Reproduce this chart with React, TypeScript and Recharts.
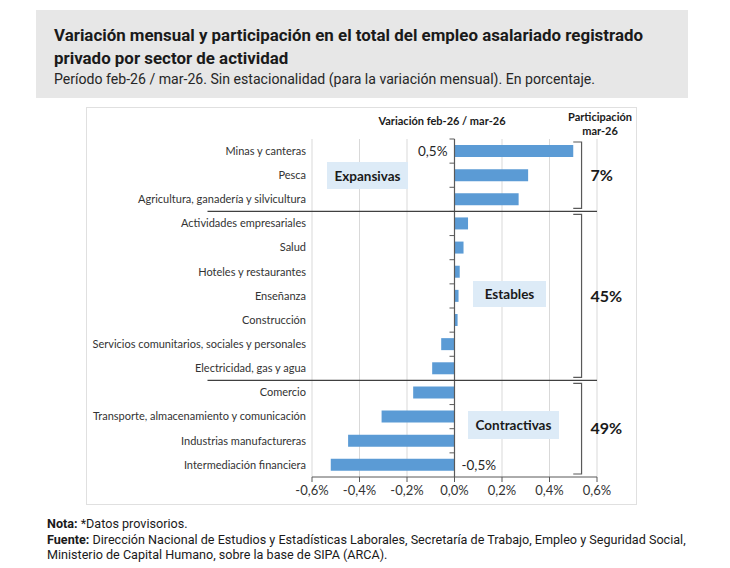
import React from "react";
import {
  BarChart,
  Bar,
  XAxis,
  YAxis,
  CartesianGrid,
  ReferenceLine,
  ReferenceArea,
  LabelList,
} from "recharts";

// sectores, de arriba hacia abajo
const sectores = [
  "Minas y canteras",
  "Pesca",
  "Agricultura, ganadería y silvicultura",
  "Actividades empresariales",
  "Salud",
  "Hoteles y restaurantes",
  "Enseñanza",
  "Construcción",
  "Servicios comunitarios, sociales y personales",
  "Electricidad, gas y agua",
  "Comercio",
  "Transporte, almacenamiento y comunicación",
  "Industrias manufactureras",
  "Intermediación financiera",
];

// variación mensual feb-26 / mar-26 (%)
const variacion = [
  0.5, 0.31, 0.27, 0.057, 0.038, 0.022, 0.017, 0.013, -0.056, -0.094, -0.174,
  -0.307, -0.448, -0.521,
];

// grupos: nombre, primer y último sector, participación mar-26
const grupos = ["Expansivas", "Estables", "Contractivas"];
const grupoDesde = ["Minas y canteras", "Actividades empresariales", "Comercio"];
const grupoHasta = [
  "Agricultura, ganadería y silvicultura",
  "Electricidad, gas y agua",
  "Intermediación financiera",
];
const participacion = ["7%", "45%", "49%"];

const xTicks = [-0.6, -0.4, -0.2, 0, 0.2, 0.4, 0.6];

const data = sectores.map((sector, i) => ({ sector, valor: variacion[i] }));

const fmt = (v: number) => `${v.toFixed(1).replace(".", ",")}%`;

const EXCEL = "Lato, 'Liberation Sans', sans-serif";
const ROBOTO = "Roboto, 'Liberation Sans', sans-serif";
const BLUE = "#5B9BD5";
const AXIS = "#595959";

// "]" shaped bracket drawn from the reference area box
const Bracket = (props: any) => {
  const { x, y, width, height } = props;
  const top = y + 3;
  const bot = y + height - 3;
  return (
    <path
      d={`M${x},${top} H${x + width} V${bot} H${x}`}
      fill="none"
      stroke={AXIS}
      strokeWidth={1.2}
    />
  );
};

// plain tick so long names stay on one line
const SectorTick = (props: any) => {
  const { x, y, payload } = props;
  return (
    <text
      x={x}
      y={y}
      dy="0.35em"
      textAnchor="end"
      fontSize={11}
      fontFamily={EXCEL}
      fill="#333"
    >
      {payload.value}
    </text>
  );
};

// label only on the first and last bar, on the other side of the axis
const EndLabel = (props: any) => {
  const { x, y, height, value, index } = props;
  if (index !== 0 && index !== sectores.length - 1) return null;
  const pos = value >= 0;
  return (
    <text
      x={pos ? x - 7 : x + 7}
      y={y + height / 2}
      dy="0.35em"
      textAnchor={pos ? "end" : "start"}
      fontSize={13.5}
      fontFamily={EXCEL}
      fill="#262626"
    >
      {fmt(value)}
    </text>
  );
};

const boxStyle: React.CSSProperties = {
  position: "absolute",
  background: "#DDEBF7",
  display: "flex",
  alignItems: "center",
  justifyContent: "center",
  fontFamily: EXCEL,
  fontWeight: 700,
  fontSize: 13.5,
  color: "#1a1a1a",
};

export default function App() {
  return (
    <div
      style={{
        position: "absolute",
        left: 0,
        top: 0,
        width: 730,
        height: 568,
        background: "#fff",
      }}
    >
      {/* encabezado */}
      <div
        style={{
          position: "absolute",
          left: 36,
          top: 10,
          width: 652,
          height: 88,
          background: "#e7e7e7",
        }}
      />
      <div
        style={{
          position: "absolute",
          left: 54,
          top: 24,
          fontFamily: ROBOTO,
          fontWeight: 700,
          fontSize: 16.9,
          lineHeight: "23px",
          color: "#1a1a1a",
          whiteSpace: "nowrap",
        }}
      >
        Variación mensual y participación en el total del empleo asalariado registrado
        <br />
        privado por sector de actividad
      </div>
      <div
        style={{
          position: "absolute",
          left: 54,
          top: 70,
          fontFamily: ROBOTO,
          fontSize: 14.1,
          lineHeight: "18px",
          color: "#262626",
          whiteSpace: "nowrap",
        }}
      >
        Período feb-26 / mar-26. Sin estacionalidad (para la variación mensual). En porcentaje.
      </div>

      {/* marco del gráfico */}
      <div
        style={{
          position: "absolute",
          left: 86,
          top: 107,
          width: 551,
          height: 398,
          border: "1px solid #e0e0e0",
          boxSizing: "border-box",
        }}
      />

      <div style={{ position: "absolute", left: 86, top: 107 }}>
        <BarChart
          width={551}
          height={398}
          data={data}
          layout="vertical"
          margin={{ top: 32, right: 40, bottom: 4, left: 0 }}
          barSize={12}
        >
          <CartesianGrid horizontal={false} vertical stroke="#d9d9d9" />
          <XAxis
            type="number"
            domain={[-0.6, 0.6]}
            ticks={xTicks}
            tickFormatter={fmt}
            allowDataOverflow
            stroke={AXIS}
            tickSize={5}
            tickMargin={4}
            height={24}
            tick={{ fontSize: 13, fontFamily: EXCEL, fill: "#333" }}
          />
          <YAxis
            type="category"
            dataKey="sector"
            width={226}
            axisLine={false}
            tickLine={false}
            tickMargin={0}
            interval={0}
            tick={<SectorTick />}
          />
          <ReferenceLine x={0} stroke={AXIS} strokeWidth={1.2} />
          {sectores.map((s) => (
            <ReferenceLine
              key={"t" + s}
              segment={[
                { x: -0.021, y: s },
                { x: 0, y: s },
              ]}
              position="start"
              stroke={AXIS}
              ifOverflow="visible"
            />
          ))}
          {grupoDesde.slice(1).map((s) => (
            <ReferenceLine
              key={"sep" + s}
              segment={[
                { x: -1.04, y: s },
                { x: 0.6, y: s },
              ]}
              position="start"
              stroke="#404040"
              strokeWidth={1.2}
              ifOverflow="visible"
            />
          ))}
          {grupos.map((g, i) => (
            <ReferenceArea
              key={g}
              x1={0.5}
              x2={0.535}
              y1={grupoDesde[i]}
              y2={grupoHasta[i]}
              ifOverflow="visible"
              shape={<Bracket />}
              label={{
                value: participacion[i],
                position: "right",
                offset: 9,
                fontSize: 16,
                fontWeight: 700,
                fontFamily: EXCEL,
                fill: "#1a1a1a",
              }}
            />
          ))}
          <Bar dataKey="valor" fill={BLUE} isAnimationActive={false}>
            <LabelList dataKey="valor" content={<EndLabel />} />
          </Bar>
        </BarChart>
      </div>

      {/* títulos internos */}
      <div
        style={{
          position: "absolute",
          left: 360,
          top: 114,
          width: 164,
          textAlign: "center",
          fontFamily: EXCEL,
          fontWeight: 700,
          fontSize: 11,
          color: "#1a1a1a",
        }}
      >
        Variación feb-26 / mar-26
      </div>
      <div
        style={{
          position: "absolute",
          left: 550,
          top: 110,
          width: 100,
          textAlign: "center",
          fontFamily: EXCEL,
          fontWeight: 700,
          fontSize: 11,
          lineHeight: "14px",
          color: "#1a1a1a",
        }}
      >
        Participación
        <br />
        mar-26
      </div>

      {/* etiquetas de grupo */}
      <div style={{ ...boxStyle, left: 327, top: 162, width: 81, height: 27 }}>{grupos[0]}</div>
      <div style={{ ...boxStyle, left: 473, top: 281, width: 73, height: 26 }}>{grupos[1]}</div>
      <div style={{ ...boxStyle, left: 468, top: 411, width: 91, height: 28 }}>{grupos[2]}</div>

      {/* pie */}
      <div
        style={{
          position: "absolute",
          left: 47,
          top: 516,
          fontFamily: ROBOTO,
          fontSize: 12.6,
          lineHeight: "15.5px",
          color: "#1a1a1a",
          whiteSpace: "nowrap",
        }}
      >
        <b>Nota:</b> *Datos provisorios.
        <br />
        <b>Fuente:</b> Dirección Nacional de Estudios y Estadísticas Laborales, Secretaría de Trabajo, Empleo y Seguridad Social,
        <br />
        Ministerio de Capital Humano, sobre la base de SIPA (ARCA).
      </div>
    </div>
  );
}
